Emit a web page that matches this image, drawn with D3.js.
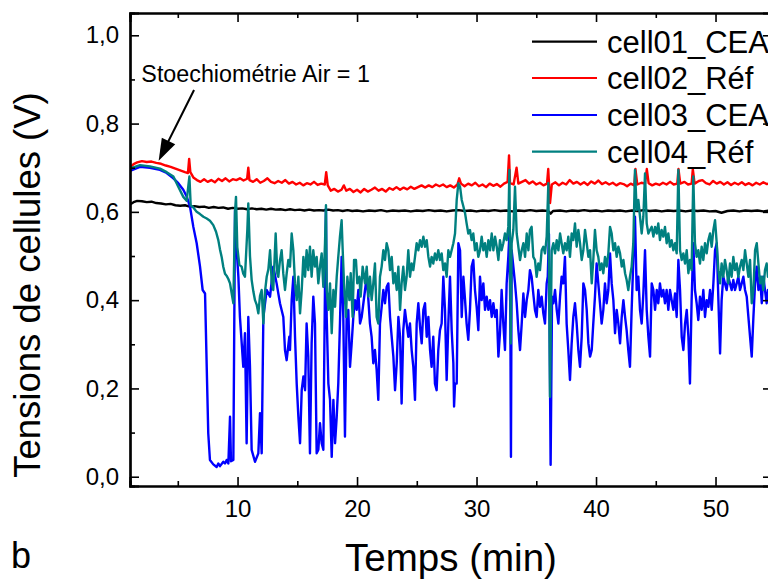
<!DOCTYPE html>
<html>
<head>
<meta charset="utf-8">
<script src="https://cdn.jsdelivr.net/npm/d3@7"></script>
<style>
  html, body { margin: 0; padding: 0; background: #fff; }
  svg { display: block; font-family: "Liberation Sans", Arial, sans-serif; }
</style>
</head>
<body>
<svg id="chart" width="768" height="579"></svg>
<script>
// ---------- DATA (time in min, cell voltage in V) ----------
const seriesNames = ["cell01_CEA1", "cell02_Réf", "cell03_CEA2", "cell04_Réf"];
const xMajorTicks = [10, 20, 30, 40, 50];
const xMinorTicks = [5, 15, 25, 35, 45];
const yMajorTicks = [0, 0.2, 0.4, 0.6, 0.8, 1.0];
const yMinorTicks = [0.1, 0.3, 0.5, 0.7, 0.9];
const xTitle = "Temps (min)";
const yTitle = "Tensions de cellules (V)";
const annotationText = "Stoechiométrie Air = 1";
const panelLabel = "b";

const cell01 = [[1.0,0.617],[1.3,0.622],[1.6,0.625],[2.0,0.624],[2.4,0.622],[2.8,0.623],[3.2,0.620],[3.6,0.619],[4.0,0.617],[4.4,0.618],[4.8,0.615],[5.2,0.614],[5.6,0.615],[6.0,0.612],[6.4,0.613],[6.8,0.611],[7.2,0.612],[7.6,0.609],[8.0,0.611],[8.4,0.609],[8.8,0.610],[9.2,0.607],[9.6,0.609],[10.0,0.607],[10.4,0.608],[10.8,0.606],[11.2,0.608],[11.6,0.606],[12.0,0.607],[12.4,0.605],[12.8,0.607],[13.2,0.605],[13.6,0.606],[14.0,0.604],[14.4,0.606],[14.8,0.604],[15.2,0.605],[15.6,0.603],[16.0,0.605],[16.4,0.603],[16.8,0.604],[17.2,0.603],[17.6,0.605],[18.0,0.603],[18.4,0.604],[18.8,0.602],[19.2,0.604],[19.6,0.602],[20.0,0.603],[20.5,0.601],[21.0,0.603],[21.5,0.602],[22.0,0.604],[22.5,0.601],[23.0,0.603],[23.5,0.602],[24.0,0.603],[24.5,0.601],[25.0,0.603],[25.5,0.602],[26.0,0.604],[26.5,0.602],[27.0,0.603],[27.5,0.601],[28.0,0.603],[28.5,0.604],[29.0,0.602],[29.5,0.603],[30.0,0.601],[30.5,0.603],[31.0,0.602],[31.5,0.604],[32.0,0.602],[32.5,0.603],[33.0,0.601],[33.5,0.603],[34.0,0.602],[34.5,0.604],[35.0,0.602],[35.5,0.603],[36.0,0.602],[36.2,0.596],[36.4,0.602],[37.0,0.603],[37.5,0.601],[38.0,0.603],[38.5,0.602],[39.0,0.604],[39.5,0.602],[40.0,0.603],[40.5,0.601],[41.0,0.603],[41.5,0.602],[42.0,0.603],[42.5,0.601],[43.0,0.603],[43.5,0.602],[44.0,0.604],[44.5,0.602],[45.0,0.603],[45.5,0.601],[46.0,0.603],[46.5,0.602],[47.0,0.603],[47.5,0.601],[48.0,0.603],[48.5,0.602],[49.0,0.603],[49.5,0.601],[50.0,0.602],[50.5,0.598],[51.0,0.602],[51.5,0.603],[52.0,0.601],[52.5,0.603],[53.0,0.602],[53.5,0.603],[54.0,0.601],[54.5,0.603],[55.0,0.602]];

const cell02 = [[1.0,0.700],[1.3,0.708],[1.6,0.712],[2.0,0.715],[2.4,0.713],[2.8,0.714],[3.2,0.711],[3.6,0.709],[4.0,0.705],[4.4,0.702],[4.8,0.698],[5.2,0.694],[5.6,0.690],[5.85,0.688],[5.95,0.720],[6.05,0.690],[6.3,0.678],[6.6,0.672],[6.9,0.668],[7.2,0.674],[7.5,0.668],[7.8,0.672],[8.1,0.667],[8.4,0.675],[8.7,0.670],[9.0,0.676],[9.3,0.669],[9.6,0.674],[9.9,0.672],[10.2,0.676],[10.5,0.671],[10.8,0.675],[10.9,0.700],[11.0,0.672],[11.3,0.668],[11.6,0.674],[11.9,0.666],[12.2,0.670],[12.5,0.676],[12.8,0.668],[13.1,0.665],[13.4,0.670],[13.7,0.666],[14.0,0.672],[14.3,0.664],[14.6,0.668],[14.9,0.662],[15.2,0.666],[15.5,0.660],[15.8,0.665],[16.1,0.662],[16.4,0.668],[16.7,0.661],[17.0,0.664],[17.3,0.662],[17.42,0.690],[17.55,0.660],[17.8,0.648],[18.1,0.652],[18.4,0.646],[18.7,0.650],[18.9,0.660],[19.1,0.648],[19.4,0.652],[19.7,0.645],[20.0,0.650],[20.3,0.644],[20.6,0.652],[20.9,0.646],[21.2,0.650],[21.5,0.655],[21.8,0.648],[22.1,0.652],[22.4,0.646],[22.7,0.654],[23.0,0.650],[23.3,0.656],[23.6,0.650],[23.9,0.655],[24.2,0.651],[24.5,0.657],[24.8,0.652],[25.1,0.656],[25.4,0.660],[25.7,0.655],[26.0,0.660],[26.3,0.656],[26.6,0.662],[26.9,0.658],[27.2,0.662],[27.5,0.656],[27.8,0.660],[28.1,0.655],[28.4,0.662],[28.55,0.676],[28.7,0.664],[29.0,0.658],[29.3,0.664],[29.6,0.660],[29.9,0.666],[30.2,0.658],[30.5,0.662],[30.8,0.656],[31.1,0.664],[31.4,0.659],[31.7,0.663],[32.0,0.657],[32.3,0.664],[32.6,0.668],[32.72,0.728],[32.8,0.665],[33.1,0.662],[33.35,0.700],[33.5,0.664],[33.8,0.668],[34.1,0.672],[34.4,0.664],[34.7,0.669],[35.0,0.662],[35.3,0.666],[35.6,0.660],[35.9,0.664],[36.0,0.697],[36.15,0.620],[36.3,0.662],[36.6,0.667],[36.9,0.660],[37.2,0.666],[37.5,0.662],[37.8,0.672],[38.1,0.664],[38.4,0.668],[38.7,0.662],[39.0,0.667],[39.3,0.661],[39.6,0.669],[39.9,0.664],[40.2,0.671],[40.5,0.663],[40.8,0.667],[41.1,0.662],[41.4,0.666],[41.7,0.660],[42.0,0.665],[42.3,0.663],[42.6,0.658],[42.9,0.664],[43.2,0.660],[43.3,0.697],[43.45,0.662],[43.8,0.666],[44.1,0.664],[44.25,0.697],[44.4,0.665],[44.7,0.660],[45.0,0.664],[45.3,0.661],[45.6,0.666],[45.9,0.662],[46.2,0.668],[46.5,0.662],[46.8,0.664],[46.9,0.697],[47.05,0.664],[47.4,0.668],[47.7,0.662],[48.0,0.664],[48.1,0.697],[48.25,0.664],[48.6,0.670],[48.9,0.672],[49.2,0.665],[49.5,0.662],[49.8,0.670],[50.1,0.664],[50.4,0.668],[50.7,0.662],[51.0,0.667],[51.3,0.661],[51.6,0.666],[51.9,0.662],[52.2,0.667],[52.5,0.661],[52.8,0.665],[53.1,0.660],[53.4,0.666],[53.7,0.662],[54.0,0.667],[54.3,0.663],[54.6,0.665],[55.0,0.664]];

const cell03 = [[1.0,0.693],[1.84,0.702],[2.67,0.700],[3.51,0.695],[4.07,0.688],[4.63,0.676],[5.04,0.665],[5.46,0.650],[5.74,0.635],[6.02,0.612],[6.30,0.566],[6.58,0.529],[6.86,0.476],[7.08,0.423],[7.28,0.415],[7.42,0.249],[7.55,0.098],[7.69,0.038],[7.97,0.028],[8.25,0.022],[8.39,0.030],[8.53,0.024],[8.81,0.034],[8.95,0.030],[9.09,0.038],[9.23,0.030],[9.37,0.136],[9.45,0.035],[9.65,0.038],[9.79,0.604],[9.93,0.513],[10.07,0.453],[10.20,0.362],[10.48,0.249],[10.62,0.325],[10.76,0.076],[10.90,0.362],[11.04,0.249],[11.18,0.061],[11.46,0.034],[11.74,0.053],[11.88,0.144],[12.02,0.053],[12.16,0.362],[12.44,0.423],[12.72,0.408],[12.99,0.476],[13.27,0.438],[13.55,0.393],[13.83,0.362],[13.97,0.287],[14.11,0.264],[14.33,0.317],
[14.39,0.287],[14.53,0.400],[14.67,0.453],[14.81,0.317],[14.95,0.211],[15.09,0.136],[15.23,0.076],[15.37,0.196],[15.51,0.227],[15.65,0.196],[15.78,0.347],[15.92,0.272],[16.06,0.053],[16.20,0.302],[16.34,0.408],[16.48,0.347],[16.62,0.053],[16.76,0.061],[16.90,0.121],[17.04,0.076],[17.18,0.061],[17.32,0.438],[17.40,0.608],[17.46,0.362],[17.60,0.211],[17.74,0.174],[17.88,0.045],[18.02,0.174],[18.16,0.076],[18.30,0.136],[18.43,0.211],[18.57,0.347],[18.71,0.498],[18.85,0.362],[18.99,0.091],[19.13,0.362],[19.27,0.378],[19.41,0.249],[19.55,0.302],[19.69,0.362],[19.83,0.400],[19.97,0.378],[20.11,0.423],[20.25,0.347],[20.39,0.362],[20.53,0.393],[20.67,0.423],[20.81,0.453],[20.95,0.400],[21.08,0.347],[21.22,0.317],[21.36,0.257],[21.50,0.287],[21.64,0.242],[21.78,0.174],[21.92,0.347],[22.06,0.385],[22.20,0.423],[22.34,0.393],[22.48,0.430],[22.62,0.438],[22.76,0.362],[22.90,0.317],[23.04,0.272],[23.18,0.196],[23.32,0.257],[23.46,0.362],[23.60,0.317],[23.73,0.166],[23.87,0.332],[24.01,0.378],[24.15,0.347],[24.29,0.317],[24.43,0.347],[24.57,0.287],[24.71,0.249],[24.85,0.174],[24.99,0.347],[25.13,0.393],[25.27,0.340],[25.41,0.302],[25.55,0.378],[25.69,0.393],[25.83,0.317],[25.97,0.362],[26.11,0.287],[26.24,0.249],[26.38,0.317],[26.52,0.211],[26.66,0.196],[26.80,0.287],[26.94,0.332],[27.08,0.347],[27.22,0.453],[27.36,0.378],[27.50,0.219],[27.64,0.347],
[27.78,0.453],[27.92,0.332],[28.06,0.257],[28.12,0.159],[28.20,0.211],[28.34,0.211],[28.48,0.529],[28.62,0.513],[28.76,0.362],[28.90,0.453],[29.04,0.400],[29.17,0.347],[29.31,0.310],[29.45,0.378],[29.59,0.476],[29.73,0.491],[29.87,0.423],[30.01,0.385],[30.15,0.332],[30.29,0.453],[30.43,0.400],[30.57,0.438],[30.71,0.378],[30.85,0.408],[30.99,0.378],[31.13,0.400],[31.27,0.362],[31.41,0.393],[31.55,0.362],[31.69,0.378],[31.83,0.272],[31.96,0.325],[32.10,0.423],[32.24,0.347],[32.38,0.287],[32.52,0.438],[32.66,0.498],[32.75,0.550],[32.83,0.362],[32.88,0.045],[32.94,0.513],[33.08,0.476],[33.22,0.438],[33.36,0.393],[33.50,0.332],[33.64,0.287],[33.78,0.347],[33.92,0.415],[34.06,0.362],[34.20,0.400],[34.34,0.423],[34.47,0.468],[34.61,0.453],[34.75,0.415],[34.89,0.378],[35.03,0.362],[35.17,0.423],[35.31,0.385],[35.45,0.408],[35.59,0.370],[35.73,0.347],[35.87,0.438],[35.96,0.453],[36.06,0.550],[36.20,0.027],[36.32,0.408],[36.43,0.393],[36.57,0.423],[36.71,0.378],[36.85,0.347],[36.99,0.408],[37.12,0.453],[37.26,0.438],[37.40,0.498],[37.54,0.347],[37.68,0.287],[37.82,0.219],[37.96,0.302],[38.10,0.362],[38.24,0.393],[38.38,0.347],[38.52,0.287],[38.66,0.249],[38.80,0.317],[38.94,0.438],[39.08,0.423],[39.22,0.378],[39.36,0.302],[39.50,0.272],[39.64,0.287],[39.77,0.347],[39.91,0.408],[40.05,0.483],[40.19,0.438],[40.33,0.393],[40.47,0.347],[40.61,0.378],[40.75,0.438],[40.89,0.393],[41.03,0.423],
[41.17,0.506],[41.31,0.438],[41.45,0.400],[41.59,0.325],[41.73,0.378],[41.87,0.347],[42.01,0.302],[42.15,0.362],[42.29,0.400],[42.43,0.362],[42.56,0.332],[42.70,0.287],[42.84,0.249],[42.98,0.378],[43.12,0.491],[43.26,0.589],[43.40,0.423],[43.54,0.453],[43.68,0.378],[43.82,0.347],[43.96,0.415],[44.10,0.513],[44.24,0.378],[44.38,0.317],[44.52,0.272],[44.66,0.438],[44.80,0.423],[44.94,0.378],[45.08,0.423],[45.21,0.393],[45.35,0.438],[45.49,0.408],[45.63,0.423],[45.77,0.393],[45.91,0.423],[46.05,0.378],[46.19,0.423],[46.33,0.400],[46.47,0.378],[46.61,0.415],[46.75,0.362],[46.89,0.491],[47.03,0.423],[47.17,0.317],[47.31,0.287],[47.45,0.347],[47.59,0.378],[47.73,0.317],[47.86,0.211],[48.00,0.400],[48.14,0.529],[48.28,0.423],[48.42,0.393],[48.56,0.355],[48.70,0.408],[48.84,0.378],[48.98,0.423],[49.12,0.362],[49.26,0.400],[49.40,0.385],[49.54,0.423],[49.68,0.378],[49.82,0.438],[49.96,0.513],[50.10,0.529],[50.24,0.400],[50.38,0.279],[50.51,0.400],[50.65,0.453],[50.79,0.438],[50.93,0.423],[51.07,0.453],[51.21,0.438],[51.35,0.423],[51.49,0.446],[51.63,0.423],[51.77,0.438],[51.91,0.453],[52.05,0.423],[52.19,0.438],[52.33,0.453],[52.47,0.423],[52.61,0.408],[52.75,0.362],[52.89,0.317],[53.03,0.272],[53.17,0.362],[53.31,0.438],[53.45,0.476],[53.59,0.423],[53.73,0.453],[53.87,0.393],[54.00,0.453],[54.14,0.423],[54.28,0.393],[54.39,0.423],[55.0,0.410]];

const cell04 = [[1.0,0.698],[1.84,0.706],[2.67,0.703],[3.51,0.698],[4.07,0.690],[4.63,0.680],[5.04,0.657],[5.46,0.634],[5.74,0.625],[5.97,0.680],[6.08,0.615],[6.30,0.610],[6.58,0.600],[6.86,0.595],[7.14,0.589],[7.42,0.585],[7.69,0.580],[7.97,0.570],[8.20,0.555],[8.39,0.536],[8.53,0.515],[8.67,0.498],[8.81,0.475],[8.95,0.460],[9.09,0.455],[9.23,0.448],[9.37,0.438],[9.51,0.415],[9.65,0.393],[9.79,0.600],[9.87,0.634],[9.98,0.520],[10.15,0.480],[10.34,0.476],[10.48,0.460],[10.62,0.453],[10.82,0.560],[10.90,0.619],[11.04,0.500],[11.18,0.446],[11.32,0.420],[11.46,0.400],[11.60,0.390],[11.74,0.370],[11.88,0.410],[12.02,0.423],[12.16,0.347],[12.30,0.420],[12.44,0.453],[12.58,0.470],[12.72,0.513],[12.86,0.440],[12.99,0.423],[13.19,0.551],[13.33,0.460],[13.41,0.453],[13.55,0.490],[13.69,0.513],[13.83,0.460],[13.97,0.423],[14.11,0.460],[14.25,0.491],
[14.39,0.476],[14.53,0.551],[14.67,0.513],[14.81,0.438],[14.95,0.400],[15.09,0.453],[15.23,0.370],[15.37,0.423],[15.51,0.498],[15.65,0.453],[15.78,0.513],[15.92,0.468],[16.06,0.521],[16.20,0.453],[16.34,0.513],[16.48,0.476],[16.62,0.498],[16.76,0.438],[16.90,0.476],[17.04,0.506],[17.18,0.430],[17.32,0.529],[17.40,0.615],[17.46,0.423],[17.60,0.378],[17.74,0.438],[17.88,0.325],[18.02,0.423],[18.16,0.385],[18.30,0.453],[18.43,0.498],[18.57,0.544],[18.71,0.581],[18.80,0.513],[18.91,0.438],[19.08,0.362],[19.19,0.453],[19.36,0.400],[19.47,0.461],[19.63,0.362],[19.75,0.491],[19.91,0.491],[20.02,0.438],[20.19,0.453],[20.30,0.408],[20.47,0.476],[20.67,0.438],[20.81,0.476],[20.95,0.408],[21.08,0.453],[21.22,0.400],[21.36,0.438],[21.50,0.483],[21.64,0.362],[21.78,0.347],[21.92,0.453],[22.06,0.476],[22.20,0.513],[22.34,0.491],[22.48,0.529],[22.62,0.513],[22.76,0.468],[22.90,0.498],[23.04,0.438],[23.18,0.461],[23.32,0.423],[23.46,0.476],[23.60,0.378],[23.73,0.438],[23.87,0.476],[24.01,0.423],[24.15,0.453],[24.29,0.513],[24.43,0.453],[24.57,0.483],[24.71,0.468],[24.85,0.498],[24.99,0.529],[25.13,0.513],[25.27,0.536],[25.41,0.521],[25.55,0.544],[25.69,0.521],[25.83,0.536],[25.97,0.498],[26.11,0.476],[26.24,0.498],[26.38,0.483],[26.52,0.506],[26.66,0.491],[26.80,0.513],[26.94,0.491],[27.08,0.506],[27.22,0.468],[27.36,0.483],[27.50,0.453],[27.64,0.513],
[27.78,0.498],[28.06,0.529],[28.20,0.551],[28.34,0.627],[28.48,0.665],[28.62,0.657],[28.76,0.627],[28.90,0.612],[29.04,0.597],[29.17,0.574],[29.31,0.551],[29.45,0.559],[29.59,0.536],[29.73,0.551],[29.87,0.513],[30.01,0.529],[30.15,0.498],[30.29,0.513],[30.43,0.544],[30.57,0.513],[30.71,0.529],[30.85,0.498],[30.99,0.536],[31.13,0.513],[31.27,0.551],[31.41,0.513],[31.55,0.544],[31.69,0.521],[31.83,0.491],[31.96,0.536],[32.10,0.513],[32.24,0.529],[32.38,0.551],[32.52,0.536],[32.66,0.566],[32.75,0.695],[32.86,0.302],[32.94,0.529],[33.08,0.559],[33.22,0.657],[33.36,0.551],[33.50,0.521],[33.64,0.491],[33.78,0.513],[33.92,0.529],[34.06,0.498],[34.20,0.551],[34.34,0.513],[34.47,0.559],[34.61,0.566],[34.75,0.498],[34.89,0.491],[35.03,0.453],[35.17,0.483],[35.31,0.468],[35.45,0.513],[35.59,0.521],[35.73,0.506],[35.87,0.544],[36.01,0.665],[36.15,0.181],[36.29,0.513],[36.43,0.529],[36.57,0.506],[36.71,0.536],[36.85,0.513],[36.99,0.551],[37.12,0.529],[37.26,0.506],[37.40,0.529],[37.54,0.513],[37.68,0.544],[37.82,0.498],[37.96,0.551],[38.10,0.536],[38.24,0.574],[38.38,0.521],[38.52,0.559],[38.66,0.529],[38.80,0.491],[38.94,0.513],[39.08,0.559],[39.22,0.529],[39.36,0.498],[39.50,0.513],[39.64,0.438],[39.77,0.491],[39.91,0.559],[40.05,0.513],[40.19,0.498],[40.33,0.468],[40.47,0.483],[40.61,0.461],[40.75,0.498],[40.89,0.476],[41.03,0.506],
[41.17,0.566],[41.31,0.551],[41.45,0.513],[41.59,0.529],[41.73,0.498],[41.87,0.521],[42.01,0.506],[42.15,0.476],[42.29,0.491],[42.43,0.461],[42.56,0.446],[42.70,0.423],[42.84,0.453],[42.98,0.476],[43.12,0.529],[43.26,0.695],[43.40,0.604],[43.54,0.627],[43.68,0.589],[43.82,0.551],[43.96,0.589],[44.10,0.687],[44.24,0.574],[44.38,0.551],[44.52,0.559],[44.66,0.566],[44.80,0.544],[44.94,0.566],[45.08,0.551],[45.21,0.574],[45.35,0.536],[45.49,0.559],[45.63,0.544],[45.77,0.566],[45.91,0.529],[46.05,0.551],[46.19,0.521],[46.33,0.536],[46.47,0.513],[46.61,0.529],[46.75,0.506],[46.89,0.695],[47.03,0.513],[47.17,0.491],[47.31,0.506],[47.45,0.483],[47.59,0.513],[47.73,0.461],[47.86,0.491],[48.00,0.468],[48.14,0.680],[48.28,0.529],[48.42,0.498],[48.56,0.513],[48.70,0.483],[48.84,0.521],[48.98,0.491],[49.12,0.529],[49.26,0.506],[49.40,0.536],[49.54,0.551],[49.68,0.521],[49.82,0.559],[49.96,0.581],[50.10,0.529],[50.24,0.468],[50.38,0.438],[50.51,0.483],[50.65,0.453],[50.79,0.491],[50.93,0.468],[51.07,0.438],[51.21,0.483],[51.35,0.453],[51.49,0.498],[51.63,0.468],[51.77,0.483],[51.91,0.453],[52.05,0.476],[52.19,0.491],[52.33,0.468],[52.47,0.513],[52.61,0.483],[52.75,0.453],[52.89,0.491],[53.03,0.393],[53.17,0.423],[53.31,0.513],[53.45,0.529],[53.59,0.483],[53.73,0.438],[53.87,0.453],[54.00,0.423],[54.14,0.468],[54.28,0.483],[54.39,0.453],[55.0,0.460]];

// annotation anchor (data coords): arrow tail and tip, label position
const annotationArrow = [[6.36, 0.876], [3.4, 0.716]];
const annotationLabelAt = [1.95, 0.895];

// ---------- STYLE ----------
const colors = ["#000000", "#ff0000", "#0000ff", "#008080"];
const M = { left: 130, right: 773, top: 13, bottom: 486 };

const svg = d3.select("#chart");
const x = d3.scaleLinear().domain([1.0, 54.81]).range([M.left, M.right]);
const y = d3.scaleLinear().domain([-0.021, 1.0505]).range([M.bottom, M.top]);

svg.append("defs").append("clipPath").attr("id", "plotclip")
  .append("rect").attr("x", M.left).attr("y", M.top)
  .attr("width", M.right - M.left).attr("height", M.bottom - M.top);

// series
const line = d3.line().x(d => x(d[0])).y(d => y(d[1]));
const series = [cell01, cell02, cell03, cell04];
const gLines = svg.append("g").attr("clip-path", "url(#plotclip)");
series.forEach((s, i) => {
  gLines.append("path").datum(s)
    .attr("d", line)
    .attr("fill", "none")
    .attr("stroke", colors[i])
    .attr("stroke-width", 2.4)
    .attr("stroke-linejoin", "round");
});

// axes
const fmt = v => d3.format(".1f")(v).replace(".", ",");
const fontSize = 24;
function styleAxis(g) {
  g.selectAll(".domain").attr("stroke-width", 2.2).attr("stroke", "#000");
  g.selectAll(".tick line").attr("stroke-width", 1.6).attr("stroke", "#000");
  g.selectAll("text").attr("font-size", fontSize).attr("fill", "#000")
    .attr("font-family", "'Liberation Sans', Arial, sans-serif");
}
svg.append("g").attr("transform", `translate(0,${M.bottom})`)
  .call(d3.axisBottom(x).tickValues(xMajorTicks).tickFormat(d3.format("d")).tickSize(-9).tickPadding(14))
  .call(styleAxis);
svg.append("g").attr("transform", `translate(0,${M.bottom})`)
  .call(d3.axisBottom(x).tickValues(xMinorTicks).tickFormat("").tickSize(-5))
  .call(styleAxis);
svg.append("g").attr("transform", `translate(0,${M.top})`)
  .call(d3.axisTop(x).tickValues(xMajorTicks).tickFormat("").tickSize(-9))
  .call(styleAxis);
svg.append("g").attr("transform", `translate(0,${M.top})`)
  .call(d3.axisTop(x).tickValues(xMinorTicks).tickFormat("").tickSize(-5))
  .call(styleAxis);
svg.append("g").attr("transform", `translate(${M.left},0)`)
  .call(d3.axisLeft(y).tickValues(yMajorTicks).tickFormat(fmt).tickSize(-9).tickPadding(11))
  .call(styleAxis);
svg.append("g").attr("transform", `translate(${M.left},0)`)
  .call(d3.axisLeft(y).tickValues(yMinorTicks).tickFormat("").tickSize(-5))
  .call(styleAxis);
svg.append("g").attr("transform", `translate(${M.right},0)`)
  .call(d3.axisRight(y).tickValues(yMajorTicks).tickFormat("").tickSize(-10))
  .call(styleAxis);
svg.append("g").attr("transform", `translate(${M.right},0)`)
  .call(d3.axisRight(y).tickValues(yMinorTicks).tickFormat("").tickSize(-4))
  .call(styleAxis);

// axis titles
svg.append("text").attr("x", 451).attr("y", 571)
  .attr("text-anchor", "middle").attr("font-size", 38.5).text(xTitle);
svg.append("text").attr("transform", "translate(40,285) rotate(-90)")
  .attr("text-anchor", "middle").attr("font-size", 36.5).text(yTitle);
svg.append("text").attr("x", 11).attr("y", 568).attr("font-size", 36).text(panelLabel);

// legend
const legendY = [41.7, 78, 115, 151.7];
seriesNames.forEach((name, i) => {
  svg.append("line").attr("x1", 532).attr("x2", 597)
    .attr("y1", legendY[i]).attr("y2", legendY[i])
    .attr("stroke", colors[i]).attr("stroke-width", 2.2);
  svg.append("text").attr("x", 607).attr("y", legendY[i] + 11)
    .attr("font-size", 31).text(name);
});

// annotation
const [tail, tip] = annotationArrow;
const tx = x(tail[0]), ty = y(tail[1]), hx = x(tip[0]), hy = y(tip[1]);
const dx = hx - tx, dy = hy - ty, len = Math.hypot(dx, dy);
const ux = dx / len, uy = dy / len, headL = 22, headW = 7.5;
const bx = hx - ux * headL, by = hy - uy * headL;
svg.append("line").attr("x1", tx).attr("y1", ty).attr("x2", bx + ux * 2).attr("y2", by + uy * 2)
  .attr("stroke", "#000").attr("stroke-width", 2);
svg.append("path")
  .attr("d", `M${hx},${hy}L${bx - uy * headW},${by + ux * headW}L${bx + uy * headW},${by - ux * headW}Z`)
  .attr("fill", "#000");
svg.append("text").attr("x", x(annotationLabelAt[0])).attr("y", y(annotationLabelAt[1]))
  .attr("font-size", 23.3).text(annotationText);
</script>
</body>
</html>
